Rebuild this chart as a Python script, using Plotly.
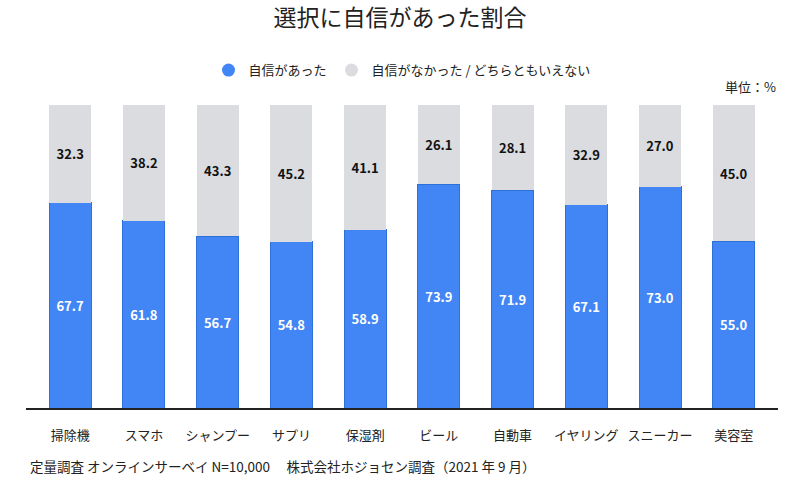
import plotly.graph_objects as go

categories = ["掃除機", "スマホ", "シャンプー", "サプリ", "保湿剤", "ビール", "自動車", "イヤリング", "スニーカー", "美容室"]
confident = [67.7, 61.8, 56.7, 54.8, 58.9, 73.9, 71.9, 67.1, 73.0, 55.0]
not_confident = [32.3, 38.2, 43.3, 45.2, 41.1, 26.1, 28.1, 32.9, 27.0, 45.0]
series_names = ["自信があった", "自信がなかった / どちらともいえない"]

FONT = "Noto Sans CJK JP"
BLUE = "#4285F4"
GREY = "#DADCE0"

fig = go.Figure()
fig.add_trace(go.Bar(
    x=categories, y=confident, name=series_names[0],
    marker=dict(color=BLUE, line=dict(color="#2F6FD8", width=1)),
    text=[f"{v:.1f}" for v in confident], textposition="inside",
    insidetextanchor="middle", textangle=0, constraintext="none",
    textfont=dict(color="white", size=13, family=FONT, weight="bold"),
    showlegend=False, hoverinfo="skip",
))
fig.add_trace(go.Bar(
    x=categories, y=not_confident, name=series_names[1],
    marker=dict(color=GREY, line=dict(width=0)),
    text=[f"{v:.1f}" for v in not_confident], textposition="inside",
    insidetextanchor="middle", textangle=0, constraintext="none",
    textfont=dict(color="#111111", size=13, family=FONT, weight="bold"),
    showlegend=False, hoverinfo="skip",
))
# legend entries with circle markers
for name, col in zip(series_names, [BLUE, GREY]):
    fig.add_trace(go.Scatter(
        x=[None], y=[None], mode="markers", name=name,
        marker=dict(symbol="circle", size=13, color=col),
    ))

fig.update_layout(
    width=800, height=488,
    barmode="stack", bargap=0.43,
    plot_bgcolor="white", paper_bgcolor="white",
    margin=dict(l=26, r=22, t=105, b=80),
    font=dict(family=FONT, color="#222222"),
    title=dict(text="選択に自信があった割合", x=0.5, xanchor="center",
               y=0.963, yanchor="middle",
               font=dict(size=23, family=FONT, color="#222222")),
    legend=dict(orientation="h", x=0.5, xanchor="center", y=1.115, yanchor="middle",
                traceorder="normal",
                font=dict(size=13, family=FONT, color="#222222"),
                itemwidth=30, tracegroupgap=0),
    xaxis=dict(range=[-0.6, 9.6], showline=True, linecolor="#222222", linewidth=2,
               ticks="", showgrid=False, tickfont=dict(size=13, family=FONT, color="#222222"),
               ticklabelstandoff=14),
    yaxis=dict(range=[0, 100], visible=False, showgrid=False),
    annotations=[
        dict(text="単位：%", x=1.0, xref="paper", xanchor="right", y=1.06, yref="paper",
             yanchor="middle", showarrow=False, font=dict(size=13, family=FONT, color="#222222")),
        dict(text="定量調査 オンラインサーベイ N=10,000　 株式会社ホジョセン調査（2021 年 9 月）",
             x=(28 - 26) / 752, xref="paper", xanchor="left", y=-0.19, yref="paper", yanchor="middle",
             showarrow=False, font=dict(size=13.5, family=FONT, color="#222222")),
    ],
)
fig.write_html("out.html", config={"displayModeBar": False},
               post_script="document.body.style.margin='0';")
